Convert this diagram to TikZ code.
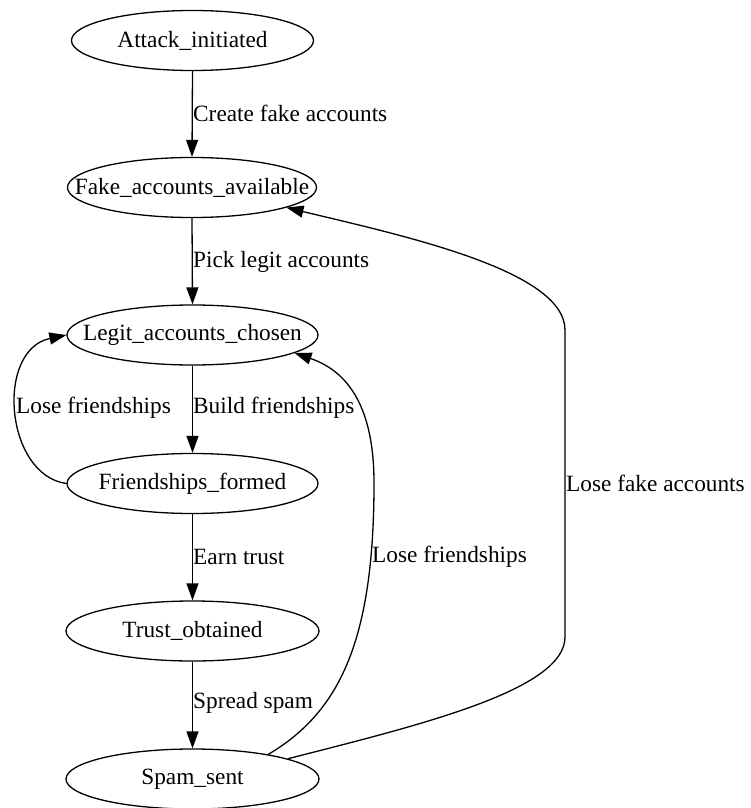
\documentclass[tikz,border=0pt]{standalone}
\usepackage{fontspec}
\setmainfont{Liberation Serif}
\usetikzlibrary{shapes.geometric,arrows.meta}
\newcommand{\nodetext}[1]{\makebox[0pt]{#1}}
\tikzset{
  state/.style={draw, ellipse, line width=1.3pt, minimum width=251pt, minimum height=60pt, inner sep=0pt, font=\fontsize{23.3}{28}\selectfont},
  edge/.style={line width=1.3pt, -{Triangle[length=17pt,width=12pt]}},
  plain/.style={line width=1.3pt},
  lbl/.style={inner sep=0pt, font=\fontsize{23.3}{28}\selectfont},
}
\begin{document}
\begin{tikzpicture}[x=1pt,y=1pt]
\useasboundingbox (0,0) rectangle (751,-808);
\node[state, minimum width=242pt] (A) at (192.5,-40.5) {\nodetext{Attack\_initiated}};
\node[state, minimum width=249pt] (F) at (192,-187.5) {\nodetext{Fake\_accounts\_available}};
\node[state] (L) at (192.5,-335) {\nodetext{Legit\_accounts\_chosen}};
\node[state] (FF) at (192.5,-483.5) {\nodetext{Friendships\_formed}};
\node[state, minimum width=253pt] (T) at (192.5,-631) {\nodetext{Trust\_obtained}};
\node[state, minimum width=253pt] (S) at (192.5,-779) {\nodetext{Spam\_sent}};

\draw[edge] (A.south) -- (F.north);
\draw[edge] (F.south) -- (L.north);
\draw[edge] (L.south) -- (FF.north);
\draw[edge] (FF.south) -- (T.north);
\draw[edge] (T.south) -- (S.north);

\node[lbl, anchor=west] (l1) at (193,-113) {Create fake accounts};
\node[lbl, anchor=west] (l2) at (193,-262) {Pick legit accounts};
\node[lbl, anchor=west] (l3) at (193,-408) {Build friendships};
\node[lbl, anchor=west] (l4) at (193,-557) {Earn trust};
\node[lbl, anchor=west] (l5) at (193,-703) {Spread spam};
\node[lbl, anchor=west] (l6) at (16,-408) {Lose friendships};
\node[lbl, anchor=west] (l7) at (372,-557) {Lose friendships};
\node[lbl, anchor=west] (l8) at (566,-483) {Lose fake accounts};

% left loop
\draw[edge] (FF.west) .. controls (5,-475) and (-5,-350) .. (L.west);
% middle edge
\coordinate (m1) at (374,-483);
\draw[plain] (S.18) .. controls (340,-712) and (374,-640) .. (m1);
\draw[edge] (m1) .. controls (374,-410) and (350,-372) .. (L.-10);
% right edge
\coordinate (r1) at (565,-637);
\coordinate (r2) at (565,-330);
\draw[plain] (S.12) .. controls (420,-725) and (565,-690) .. (r1) -- (r2);
\draw[edge] (r2) .. controls (565,-270) and (400,-235) .. (F.-12);
\end{tikzpicture}
\end{document}
